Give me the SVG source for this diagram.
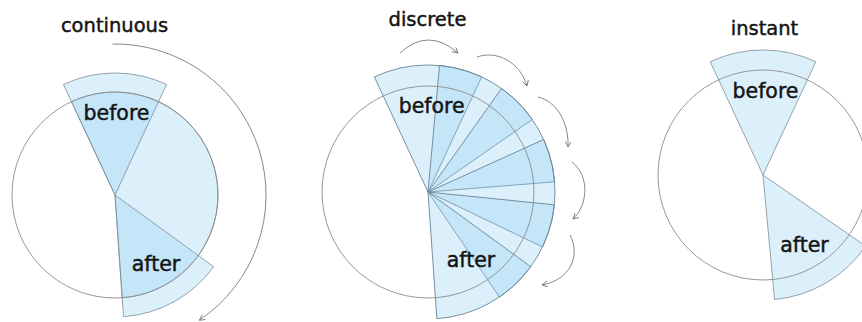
<svg xmlns="http://www.w3.org/2000/svg" width="862" height="322" viewBox="0 0 862 322">
<defs>
<style>
.bg{fill:#ffffff}
.w{fill:#92d0f2;fill-opacity:0.32;stroke:#7d8b94;stroke-width:0.8;stroke-linejoin:round}
.wd{fill:#92d0f2;fill-opacity:0.32;stroke:#6a8596;stroke-width:0.9;stroke-linejoin:round}
.c{fill:none;stroke:#8c8c8c;stroke-width:0.9}
.t{font-family:"DejaVu Sans","Liberation Sans",sans-serif;fill:#141414;stroke:#141414;stroke-width:0.45;text-anchor:middle}
.title{font-size:19.5px}
.lab{font-size:20.5px}
.arr{fill:none;stroke:#7a7a7a;stroke-width:0.9;marker-end:url(#ah)}
</style>
<marker id="ah" markerWidth="8" markerHeight="8" refX="6" refY="3" orient="auto" markerUnits="userSpaceOnUse">
<path d="M0.5,0 L6,3 L0.5,6" fill="none" stroke="#7a7a7a" stroke-width="0.9"/>
</marker>
</defs>
<rect class="bg" x="0" y="0" width="862" height="322"/>

<g id="continuous">
<text class="t title" x="114.5" y="32">continuous</text>
<path class="w" d="M115,195 L71.47,101.65 A103,103 0 1 1 122.19,297.75 Z"/>
<path class="w" d="M115,195 L63.44,84.43 A122,122 0 0 1 166.56,84.43 Z"/>
<path class="w" d="M115,195 L213.70,266.71 A122,122 0 0 1 123.51,316.70 Z"/>
<circle class="c" cx="115" cy="195" r="103"/>
<text class="t lab" x="116.5" y="120">before</text>
<text class="t lab" x="156" y="271">after</text>
</g>

<g id="discrete">
<text class="t title" x="427.5" y="26">discrete</text>
<path class="wd" d="M428,192 L374.33,76.90 A127,127 0 0 1 481.67,76.90 Z"/>
<path class="wd" d="M428,192 L439.51,65.52 A127,127 0 0 1 532.29,119.52 Z"/>
<path class="wd" d="M428,192 L501.57,88.48 A127,127 0 0 1 554.59,181.81 Z"/>
<path class="wd" d="M428,192 L543.66,139.54 A127,127 0 0 1 542.53,246.88 Z"/>
<path class="wd" d="M428,192 L554.35,204.83 A127,127 0 0 1 499.38,297.04 Z"/>
<path class="wd" d="M428,192 L530.75,266.65 A127,127 0 0 1 436.86,318.69 Z"/>
<circle class="c" cx="428" cy="192" r="106"/>
<text class="t lab" x="431.7" y="113">before</text>
<text class="t lab" x="471" y="266.5">after</text>
</g>

<g id="instant">
<text class="t title" x="764.5" y="35">instant</text>
<path class="w" d="M763,175 L710.17,61.71 A125,125 0 0 1 815.83,61.71 Z"/>
<path class="w" d="M763,175 L865.77,246.16 A125,125 0 0 1 774.55,299.47 Z"/>
<circle class="c" cx="763" cy="175" r="105"/>
<text class="t lab" x="765.5" y="98">before</text>
<text class="t lab" x="804.5" y="252">after</text>
</g>

<g id="connectors">
<path class="arr" d="M112.4,44 A151,151 0 0 1 199.4,320.2"/>
<path class="arr" d="M400,53 Q428,27 458,53"/>
<path class="arr" d="M477,57 C497,50 520,62 527,86"/>
<path class="arr" d="M538,97 C556,101 569,122 568,147"/>
<path class="arr" d="M572,162 C590,176 588,205 573,219"/>
<path class="arr" d="M570,235 C581,256 570,280 542,285"/>
</g>
</svg>
